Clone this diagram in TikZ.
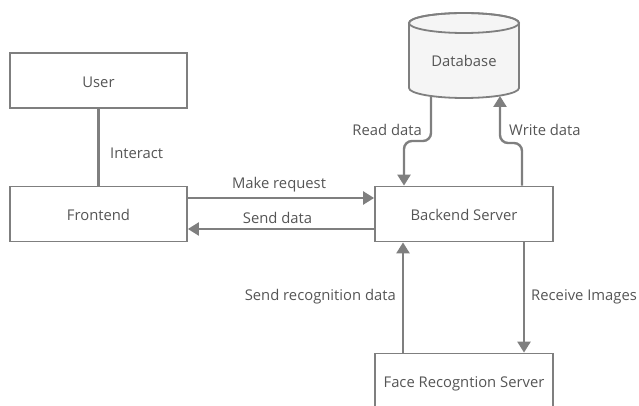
\documentclass[tikz,border=0pt]{standalone}
\usepackage{fontspec}
\setmainfont{Open Sans}
\usetikzlibrary{arrows.meta}
\definecolor{ln}{HTML}{7F7F7F}
\definecolor{tx}{HTML}{555555}
\definecolor{dbfill}{HTML}{F5F5F5}
\tikzset{
  box/.style={draw=ln, line width=1.8pt, fill=white, minimum width=177pt, minimum height=55pt, inner sep=0pt, text height=13.5pt, text depth=0pt, text=tx, font=\fontsize{14.8}{17}\selectfont},
  lbl/.style={text=tx, font=\fontsize{14.8}{17}\selectfont, inner sep=0pt},
  conn/.style={draw=ln, line width=2.4pt},
  arr/.style={conn, -{Triangle[width=13pt,length=11pt]}}
}
\begin{document}
\begin{tikzpicture}[x=1pt,y=-1pt]
\useasboundingbox (0,0) rectangle (639,406);
% boxes
\node[box] (user) at (98.5,80.5) {User};
\node[box] (fe) at (98.5,214) {Frontend};
\node[box, minimum width=178pt] (be) at (464,214) {Backend Server};
\node[box, minimum width=178pt] (fr) at (464,381) {Face Recogntion Server};
% database cylinder
\filldraw[draw=ln, fill=dbfill, line width=1.8pt] (409,23) -- (409,88) arc[start angle=180,end angle=360,x radius=55pt,y radius=10pt] -- (519,23) arc[start angle=0,end angle=180,x radius=55pt,y radius=10pt] -- cycle;
\draw[draw=ln, line width=1.8pt] (464,23) ellipse[x radius=55pt, y radius=10pt];
\node[lbl] (db) at (464,61) {Database};
\coordinate (dbr) at (431,96);
\coordinate (dbw) at (500,96);
% connectors
\draw[conn] (user.south) -- (fe.north);
\node[lbl, anchor=west] (lint) at (110,153) {Interact};
\draw[arr] (fe.east |- 0,198) -- (be.west |- 0,198);
\node[lbl] (lmr) at (279,185) {Make request};
\draw[arr] (be.west |- 0,229) -- (fe.east |- 0,229);
\node[lbl] (lsd) at (277.5,218) {Send data};
\draw[arr, rounded corners=8pt] (dbr) |- (404,141) -- ([xshift=-60pt]be.north);
\node[lbl, anchor=east] (lrd) at (422,130) {Read data};
\draw[arr, rounded corners=8pt] ([xshift=58pt]be.north) |- (500,143) -- (dbw);
\node[lbl, anchor=west] (lwd) at (509,130) {Write data};
\draw[arr] ([xshift=-61pt]fr.north) -- ([xshift=-61pt]be.south);
\node[lbl, anchor=east] (lsr) at (396,297) {Send recognition data};
\draw[arr] ([xshift=60pt]be.south) -- ([xshift=60pt]fr.north);
\node[lbl, anchor=west] (lri) at (531,297) {Receive Images};
\end{tikzpicture}
\end{document}
